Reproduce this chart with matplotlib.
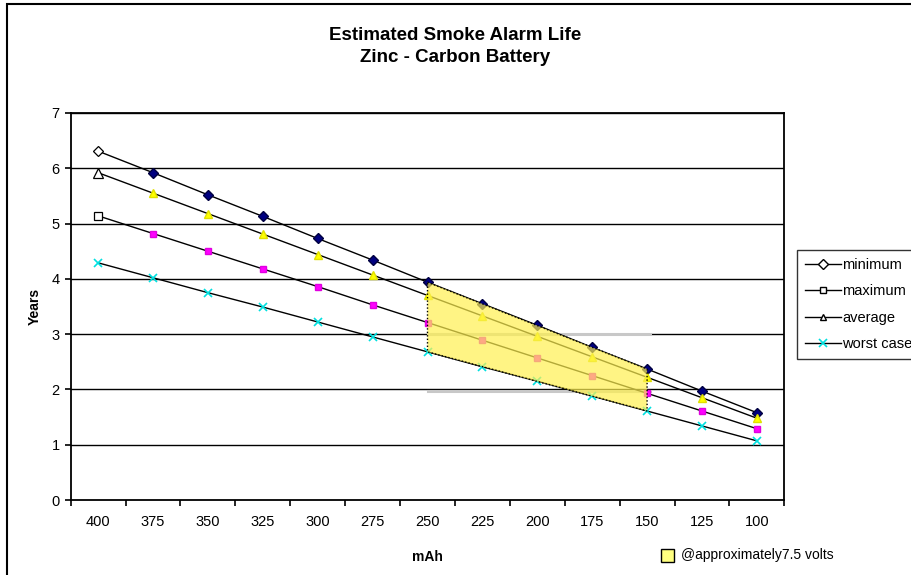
import matplotlib
matplotlib.use("Agg")
import matplotlib.pyplot as plt
from matplotlib.lines import Line2D
from matplotlib.patches import Polygon, Rectangle
import numpy as np

plt.rcParams['font.family'] = ['Liberation Sans', 'DejaVu Sans']

# data
mah = ['400', '375', '350', '325', '300', '275', '250', '225', '200', '175', '150', '125', '100']
minimum = [6.31, 5.92, 5.52, 5.13, 4.73, 4.34, 3.94, 3.55, 3.16, 2.76, 2.37, 1.97, 1.58]
average = [5.92, 5.55, 5.18, 4.81, 4.44, 4.07, 3.70, 3.33, 2.96, 2.59, 2.22, 1.85, 1.48]
maximum = [5.14, 4.82, 4.50, 4.18, 3.86, 3.53, 3.21, 2.89, 2.57, 2.25, 1.93, 1.61, 1.29]
worst = [4.29, 4.02, 3.75, 3.49, 3.22, 2.95, 2.68, 2.41, 2.15, 1.88, 1.61, 1.34, 1.07]
band_start, band_end = 6, 10   # 250 .. 150 mAh shaded region

fig = plt.figure(figsize=(9.12, 5.75), dpi=100)
ax = fig.add_axes([0.0775, 0.1304, 0.7825, 0.6731])
x = np.arange(len(mah))

# chart border (runs off right/bottom edge like the reference)
fig.add_artist(Rectangle((7/912, -0.1), 1.2, 1 - 4/575 + 0.1, transform=fig.transFigure,
                         fill=False, edgecolor='black', lw=1.5))

ax.set_xlim(-0.5, len(mah) - 0.5)
ax.set_ylim(0, 7)
for yv in range(1, 8):
    ax.axhline(yv, color='black', lw=1, zorder=1)

# gray artefact lines in the pasted highlight
ax.plot([band_start, band_end + 0.05], [3, 3], color='#c8c8c8', lw=2.2, zorder=1.5)
ax.plot([band_start, band_end + 0.05], [1.97, 1.97], color='#c8c8c8', lw=2.2, zorder=1.5)

series = [
    (minimum, 'D', '#000080', '#000040', 5, 5),
    (average, '^', '#ffff00', '#e0e000', 6, 6.5),
    (maximum, 's', '#ff00ff', '#e000e0', 5, 5.5),
]
for vals, mk, fc, ec, ms, ms0 in series:
    ax.plot(x, vals, color='black', lw=1, zorder=2)
    ax.plot(x[1:], vals[1:], ls='none', marker=mk, ms=ms, mfc=fc, mec=ec, zorder=3)
    ax.plot(x[:1], vals[:1], ls='none', marker=mk, ms=ms0, mfc='white', mec='black', mew=0.9, zorder=3)
ax.plot(x, worst, color='black', lw=1, zorder=2)
ax.plot(x, worst, ls='none', marker='x', ms=6, mec='#00e0e0', mew=1.2, zorder=3)

# shaded 7.5 V region
poly = [(band_start, minimum[band_start]), (band_end, minimum[band_end]),
        (band_end, worst[band_end]), (band_start, worst[band_start])]
ax.add_patch(Polygon(poly, closed=True, facecolor='#fff050', alpha=0.7, edgecolor='none', zorder=4))
ax.add_patch(Polygon(poly, closed=True, facecolor='none', edgecolor='black', lw=1, ls=(0, (1, 1.5)), zorder=5))

for s in ax.spines.values():
    s.set_color('black')
    s.set_linewidth(1.3)

ax.set_xticks(x)
ax.set_xticklabels(mah, fontsize=10.5)
ax.set_xticks(np.arange(-0.5, len(mah)), minor=True)
ax.tick_params(axis='x', which='major', length=0, pad=11)
ax.tick_params(axis='x', which='minor', length=4, direction='out', width=1.2)
ax.set_yticks(range(0, 8))
ax.tick_params(axis='y', length=4, direction='out', width=1.2, labelsize=10.5, pad=4)

ax.set_xlabel('mAh', fontsize=10, fontweight='bold', labelpad=15)
ax.set_ylabel('Years', fontsize=10, fontweight='bold', labelpad=7)

fig.text(0.499, 1 - 46.5/575, 'Estimated Smoke Alarm Life\nZinc - Carbon Battery', ha='center', va='center',
         fontsize=13.5, fontweight='bold', linespacing=1.35)

handles = [
    Line2D([], [], color='black', lw=1, marker='D', ms=5, mfc='white', mec='black'),
    Line2D([], [], color='black', lw=1, marker='s', ms=5, mfc='white', mec='black'),
    Line2D([], [], color='black', lw=1, marker='^', ms=5, mfc='white', mec='black'),
    Line2D([], [], color='black', lw=1, marker='x', ms=6, mec='#00e0e0', mew=1.2),
]
leg = fig.legend(handles, ['minimum', 'maximum', 'average', 'worst case'], loc='upper left',
                 bbox_to_anchor=(797/912, 1 - 250/575), fontsize=10.5, frameon=True, fancybox=False,
                 edgecolor='black', handlelength=2.5, handletextpad=0.05, borderpad=0.55,
                 labelspacing=0.85, borderaxespad=0)
leg.get_frame().set_linewidth(1)

fig.add_artist(Rectangle((661/912, 1 - 562/575), 13/912, 13/575, transform=fig.transFigure,
                         facecolor='#ffff80', edgecolor='black', lw=1))
fig.text(681/912, 1 - 555/575, '@approximately7.5 volts', fontsize=10, va='center', ha='left')

fig.savefig('out.png', dpi=100)
